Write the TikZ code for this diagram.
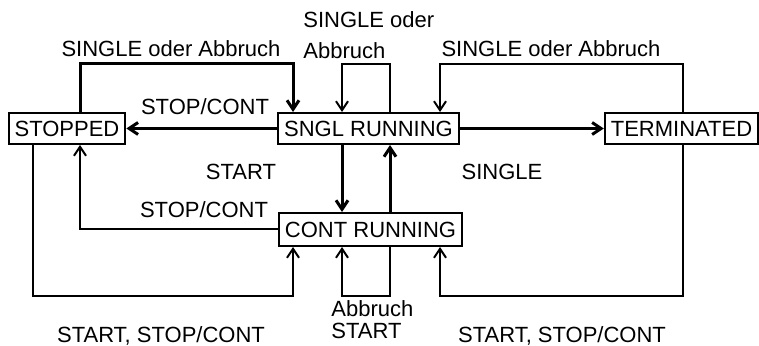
\documentclass[tikz,border=0pt]{standalone}
\usepackage{fontspec}
\setmainfont{Liberation Sans}
\usetikzlibrary{positioning, arrows.meta, calc}

\begin{document}
\begin{tikzpicture}[x=0.5pt, y=-0.5pt,
  font=\fontsize{11}{13}\selectfont,
  state/.style={draw, line width=1pt, inner xsep=3pt, minimum height=15.5pt},
  lbl/.style={inner sep=0pt, anchor=base},
  thickflow/.style={line width=1.5pt},
  thinflow/.style={line width=1pt},
  >={Straight Barb[length=4.5pt, width=6pt]}]
\useasboundingbox (0,0) rectangle (759,346);

% States
\node[state] (stopped) at (67,128.5) {STOPPED};
\node[state] (sngl) at (368.5,128.5) {SNGL RUNNING};
\node[state] (term) at (681.5,128.5) {TERMINATED};
\node[state, minimum height=16.5pt] (cont) at (370.5,229.5) {CONT RUNNING};

% Transitions above
\draw[thickflow,->] ([xshift=6.5pt]stopped.north) -- ++(0,-48) -| ([xshift=-37.75pt]sngl.north);
\draw[thinflow,->] ([xshift=10.75pt]sngl.north) -- ++(0,-48) -| ([xshift=-13.25pt]sngl.north);
\draw[thinflow,->] ([xshift=0.75pt]term.north) -- ++(0,-48) -| ([xshift=35.75pt]sngl.north);

% Transitions in the middle
\draw[thickflow,->] (sngl) -- (stopped);
\draw[thickflow,->] (sngl) -- (term);
\draw[thickflow,->] ([xshift=-13.25pt]sngl.south) -- ([xshift=-14.25pt]cont.north);
\draw[thickflow,->] ([xshift=9.75pt]cont.north) -- ([xshift=10.75pt]sngl.south);
\draw[thinflow,->] (cont.west) -| ([xshift=6.5pt]stopped.south);

% Transitions below
\draw[thinflow,->] ([xshift=-17pt]stopped.south) -- ++(0,151) -| ([xshift=-38.75pt]cont.south);
\draw[thinflow,->] ([xshift=9.75pt]cont.south) -- ++(0,49) -| ([xshift=-14.25pt]cont.south);
\draw[thinflow,->] ([xshift=0.75pt]term.south) -- ++(0,151) -| ([xshift=34.75pt]cont.south);

% Labels
\node[lbl] (lstopsngl) at (171,57) {SINGLE oder Abbruch};
\node[lbl, anchor=base west] (lsngla) at (303,28) {SINGLE oder};
\node[lbl, anchor=base west] (lsnglb) at (303,59) {Abbruch};
\node[lbl] (ltermsngl) at (551,57) {SINGLE oder Abbruch};
\node[lbl] (lsnglstop) at (205,115) {STOP/CONT};
\node[lbl] (lstart) at (241,180) {START};
\node[lbl] (lsingle) at (502,180) {SINGLE};
\node[lbl] (lcontstop) at (204,218) {STOP/CONT};
\node[lbl] (lstopcont) at (161,343) {START, STOP/CONT};
\node[lbl, anchor=base west] (lconta) at (331,317) {Abbruch};
\node[lbl, anchor=base west] (lcontb) at (331,339) {START};
\node[lbl] (ltermcont) at (562,343) {START, STOP/CONT};
\end{tikzpicture}
\end{document}
